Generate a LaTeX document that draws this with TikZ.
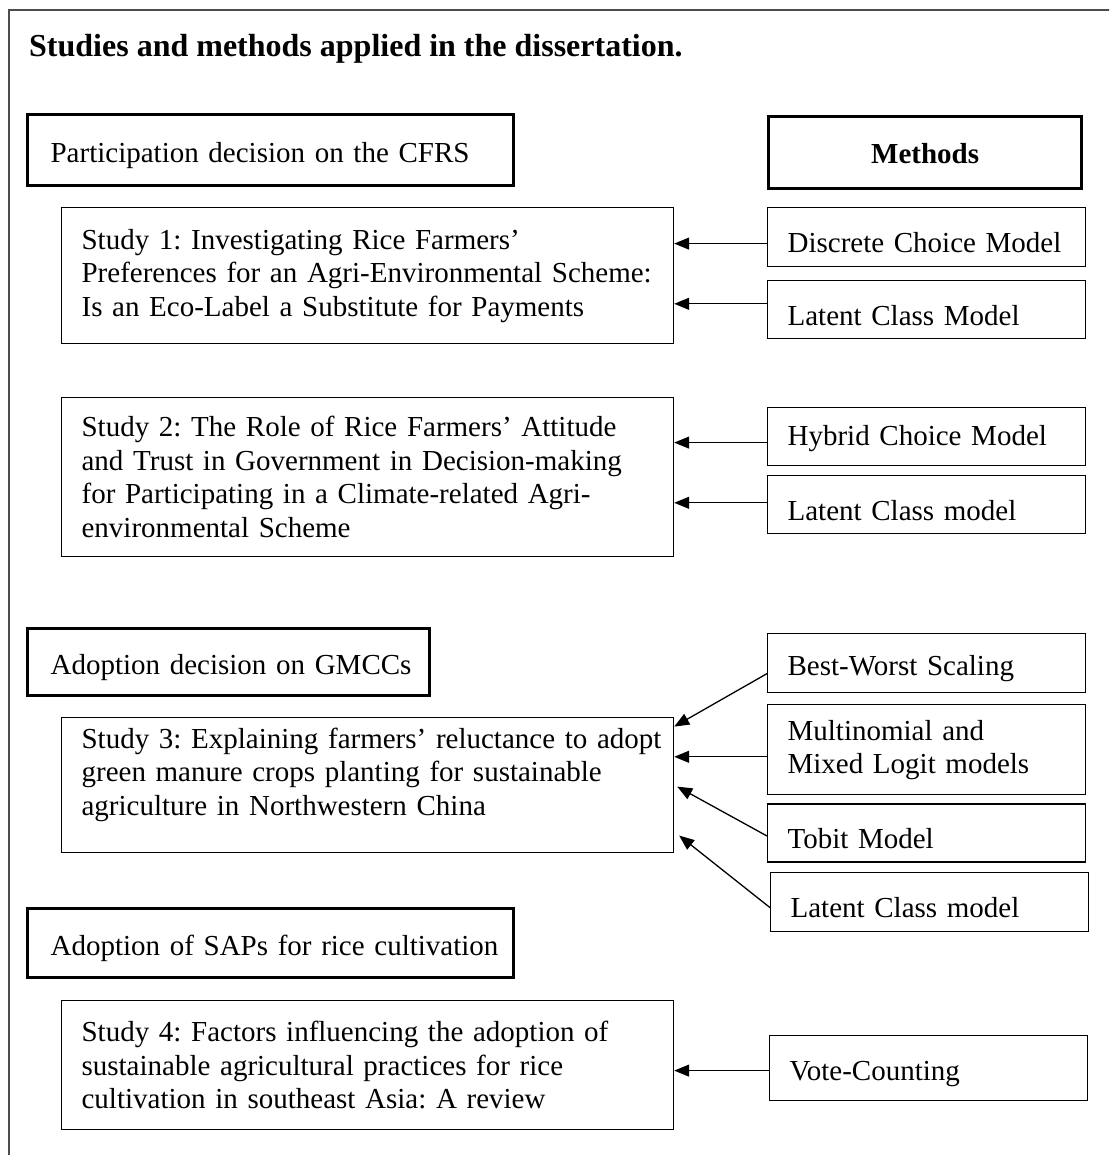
\documentclass[tikz,border=0pt]{standalone}
\usepackage{fontspec}
\setmainfont{Liberation Serif}
\usepackage{tikz}
\usetikzlibrary{arrows.meta,positioning,calc}
\frenchspacing

\newcommand{\bodysize}{\fontsize{29pt}{33.5pt}\selectfont}

\begin{document}
\begin{tikzpicture}[
    x=1pt, y=-1pt,
    heavybox/.style={rectangle, draw=black, line width=3.2pt, inner xsep=4pt, inner ysep=0pt, anchor=north west, text height=31pt, font=\bodysize},
    head/.style={heavybox, align=left, execute at begin node={\leftskip=19pt\relax}},
    studybox/.style={rectangle, draw=black, line width=1.2pt, inner xsep=4pt, inner ysep=0pt, align=left, anchor=north west, text width=604pt, font=\bodysize, execute at begin node={\leftskip=16pt\relax}},
    methodbox/.style={rectangle, draw=black, line width=1.2pt, inner xsep=4pt, inner ysep=0pt, align=left, anchor=north west, text width=310pt, text height=31pt, font=\bodysize, execute at begin node={\leftskip=16pt\relax}},
    arrow/.style={-{Triangle[length=15pt,width=12pt]}, line width=1.3pt}
]
\clip (0,0) rectangle (1109,1155);

% outer frame
\draw[black!70, line width=1.3pt] (9,1200) -- (9,10) -- (1200,10);

\node[anchor=base west, inner sep=0pt, font=\fontsize{32pt}{36pt}\selectfont\bfseries] (title) at (29,57) {Studies and methods applied in the dissertation.};

% headers
\node[head, text width=478pt, minimum height=71pt] (cfrs) at (26,113) {Participation decision on the CFRS};
\node[heavybox, text width=305pt, minimum height=72pt, align=center, text height=22pt, font=\bodysize\bfseries] (methods) at (767,115) {Methods};

% study 1
\node[studybox, minimum height=136pt] (s1) at (61,207) {Study 1: Investigating Rice Farmers’\\Preferences for an Agri-Environmental Scheme:\\Is an Eco-Label a Substitute for Payments};
\node[methodbox, minimum height=59pt] (dcm) at (767,207) {Discrete Choice Model};
\node[methodbox, minimum height=58pt, below=13pt of dcm.south west, anchor=north west] (lcma) {Latent Class Model};

% study 2
\node[studybox, minimum height=159pt] (s2) at (61,397) {Study 2: The Role of Rice Farmers’ Attitude\\and Trust in Government in Decision-making\\for Participating in a Climate-related Agri-\\environmental Scheme};
\node[methodbox, minimum height=58pt, text height=24pt] (hcm) at (767,407) {Hybrid Choice Model};
\node[methodbox, minimum height=58pt, below=9pt of hcm.south west, anchor=north west] (lcmb) {Latent Class model};

% study 3
\node[head, text width=394pt, minimum height=67pt] (gmcc) at (26,627) {Adoption decision on GMCCs};
\node[studybox, minimum height=135pt, text depth=94pt] (s3) at (61,717) {Study 3: Explaining farmers’ reluctance to adopt\\green manure crops planting for sustainable\\agriculture in Northwestern China};
\node[methodbox, minimum height=59pt] (bws) at (767,633) {Best-Worst Scaling};
\node[methodbox, minimum height=90pt, text height=21pt, below=11pt of bws.south west, anchor=north west] (mml) {Multinomial and\\Mixed Logit models};
\node[methodbox, minimum height=58pt, below=8pt of mml.south west, anchor=north west] (tobit) {Tobit Model};
\node[methodbox, minimum height=59pt] (lcmc) at (770,872) {Latent Class model};

% study 4
\node[head, text width=478pt, minimum height=69pt] (saps) at (26,907) {Adoption of SAPs for rice cultivation};
\node[studybox, minimum height=129pt] (s4) at (61,1000) {Study 4: Factors influencing the adoption of\\sustainable agricultural practices for rice\\cultivation in southeast Asia: A review};
\node[methodbox, minimum height=65pt] (vote) at (769,1035) {Vote-Counting};

% connectors
\coordinate (p1) at ([yshift=-6.5pt]dcm.west);
\coordinate (p2) at ([yshift=6pt]lcma.west);
\coordinate (p3) at ([yshift=-6pt]hcm.west);
\coordinate (p4) at ([yshift=2pt]lcmb.west);
\coordinate (p5) at ([yshift=-7pt]mml.west);
\coordinate (p6) at ([yshift=-2.5pt]vote.west);
\draw[arrow] (p1) -- (p1 -| s1.east);
\draw[arrow] (p2) -- (p2 -| s1.east);
\draw[arrow] (p3) -- (p3 -| s2.east);
\draw[arrow] (p4) -- (p4 -| s2.east);
\draw[arrow] ([yshift=-10.5pt]bws.west) -- ([yshift=58.5pt]s3.east);
\draw[arrow] (p5) -- (p5 -| s3.east);
\draw[arrow] ([yshift=-3pt]tobit.west) -- ([xshift=3pt,yshift=-1.5pt]s3.east);
\draw[arrow] ([yshift=-5.5pt]lcmc.west) -- ([xshift=5pt,yshift=-50.5pt]s3.east);
\draw[arrow] (p6) -- (p6 -| s4.east);

\end{tikzpicture}
\end{document}
